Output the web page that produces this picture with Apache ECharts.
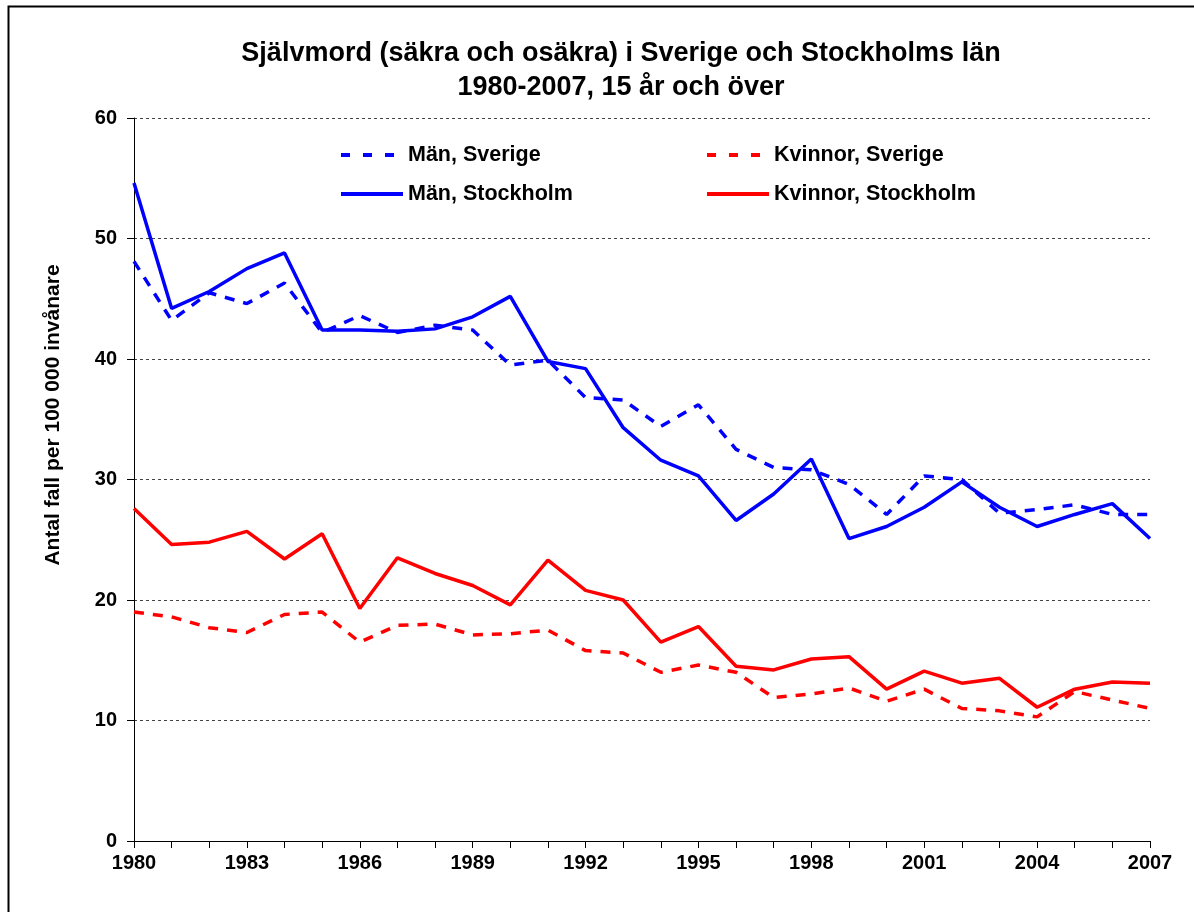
<!DOCTYPE html>
<html lang="sv">
<head>
    <meta charset="UTF-8">
    <title>Självmord i Sverige och Stockholms län 1980-2007</title>
    <script src="https://cdn.jsdelivr.net/npm/echarts@6/dist/echarts.min.js"></script>
</head>
<body style="margin:0;background:#fff;">
<div id="main" style="width:1194px;height:912px;"></div>
<script type="text/javascript">
    // årtal
    var years = ['1980', '1981', '1982', '1983', '1984', '1985', '1986', '1987', '1988', '1989',
        '1990', '1991', '1992', '1993', '1994', '1995', '1996', '1997', '1998', '1999',
        '2000', '2001', '2002', '2003', '2004', '2005', '2006', '2007'];

    // antal fall per 100 000 invånare
    var manSverige = [48.1, 43.2, 45.5, 44.6, 46.3, 42.2, 43.6, 42.2, 42.8, 42.4,
        39.5, 39.9, 36.8, 36.6, 34.4, 36.2, 32.5, 31.0, 30.8, 29.6,
        27.1, 30.3, 30.0, 27.2, 27.5, 27.9, 27.1, 27.1];
    var manStockholm = [54.6, 44.2, 45.6, 47.5, 48.8, 42.4, 42.4, 42.3, 42.5, 43.5,
        45.2, 39.8, 39.2, 34.3, 31.6, 30.3, 26.6, 28.8, 31.7, 25.1,
        26.1, 27.7, 29.8, 27.7, 26.1, 27.1, 28.0, 25.1];
    var kvinnorSverige = [19.0, 18.6, 17.7, 17.3, 18.8, 19.0, 16.5, 17.9, 18.0, 17.1,
        17.2, 17.5, 15.8, 15.6, 14.0, 14.6, 14.0, 11.9, 12.2, 12.7,
        11.6, 12.6, 11.0, 10.8, 10.3, 12.4, 11.7, 11.0];
    var kvinnorStockholm = [27.6, 24.6, 24.8, 25.7, 23.4, 25.5, 19.3, 23.5, 22.2, 21.2,
        19.6, 23.3, 20.8, 20.0, 16.5, 17.8, 14.5, 14.2, 15.1, 15.3,
        12.6, 14.1, 13.1, 13.5, 11.1, 12.6, 13.2, 13.1];

    var yTicks = [0, 10, 20, 30, 40, 50, 60];

    var font = 'Liberation Sans, Arial, sans-serif';

    var myChart = echarts.init(document.getElementById('main'));

    function lineSeries(name, data, color, dashed) {
        return {
            name: name,
            type: 'line',
            data: data,
            symbol: 'none',
            smooth: false,
            lineStyle: {
                color: color,
                width: 3.5,
                type: dashed ? [10, 9] : 'solid'
            },
            itemStyle: {color: color}
        };
    }

    function legendAt(name, left, top, dashed) {
        return {
            data: [name],
            left: left,
            top: top,
            itemWidth: 62,
            itemHeight: 14,
            itemGap: 0,
            itemStyle: {opacity: 0},
            lineStyle: {width: 4, type: dashed ? [9, 13] : 'solid'},
            textStyle: {fontFamily: font, fontWeight: 'bold', fontSize: 21.5, color: '#000'}
        };
    }

    var option = {
        backgroundColor: '#fff',
        animation: false,
        graphic: [
            {
                type: 'rect',
                left: 6,
                top: 4,
                shape: {width: 1300, height: 1000},
                style: {fill: 'none', stroke: '#000', lineWidth: 2}
            },
            {
                type: 'text',
                x: 621,
                y: 71,
                style: {
                    text: 'Självmord (säkra och osäkra) i Sverige och Stockholms län\n1980-2007, 15 år och över',
                    textAlign: 'center',
                    textVerticalAlign: 'middle',
                    fontFamily: font,
                    fontWeight: 'bold',
                    fontSize: 27,
                    lineHeight: 34,
                    fill: '#000'
                }
            },
            {
                // axeltitel, placerad som i originalet (inte mitt på axeln)
                type: 'text',
                x: 53,
                y: 415,
                rotation: Math.PI / 2,
                style: {
                    text: 'Antal fall per 100 000 invånare',
                    textAlign: 'center',
                    textVerticalAlign: 'middle',
                    fontFamily: font,
                    fontWeight: 'bold',
                    fontSize: 21,
                    fill: '#000'
                }
            }
        ],
        legend: [
            legendAt('Män, Sverige', 334, 139, true),
            legendAt('Män, Stockholm', 334, 178, false),
            legendAt('Kvinnor, Sverige', 700, 139, true),
            legendAt('Kvinnor, Stockholm', 700, 178, false)
        ],
        grid: {
            left: 134,
            right: 44,
            top: 118,
            bottom: 71,
            containLabel: false
        },
        xAxis: {
            type: 'category',
            data: years,
            boundaryGap: false,
            axisLine: {lineStyle: {color: '#000', width: 1}},
            axisTick: {show: true, interval: 0, length: 7, lineStyle: {color: '#000'}},
            axisLabel: {
                interval: 2,
                margin: 12,
                color: '#000',
                fontFamily: font,
                fontWeight: 'bold',
                fontSize: 20
            },
            splitLine: {show: false}
        },
        yAxis: {
            type: 'value',
            min: yTicks[0],
            max: yTicks[yTicks.length - 1],
            interval: 10,
            axisLine: {show: true, lineStyle: {color: '#000', width: 1}},
            axisTick: {show: true, length: 7, lineStyle: {color: '#000'}},
            axisLabel: {
                margin: 17,
                color: '#000',
                fontFamily: font,
                fontWeight: 'bold',
                fontSize: 20
            },
            splitLine: {
                show: true,
                lineStyle: {color: '#444', width: 1, type: [3, 3]}
            }
        },
        series: [
            lineSeries('Män, Sverige', manSverige, '#0000ff', true),
            lineSeries('Kvinnor, Sverige', kvinnorSverige, '#ff0000', true),
            lineSeries('Män, Stockholm', manStockholm, '#0000ff', false),
            lineSeries('Kvinnor, Stockholm', kvinnorStockholm, '#ff0000', false)
        ]
    };

    myChart.setOption(option);
</script>
</body>
</html>
